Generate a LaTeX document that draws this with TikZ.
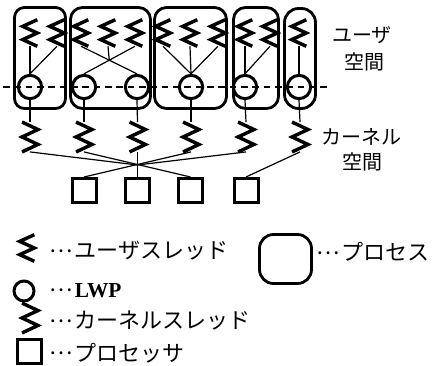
\documentclass[tikz,border=0pt]{standalone}
\usepackage{fontspec}
\newfontfamily\jp{Noto Sans CJK JP}
\newfontfamily\lwpfont{Liberation Serif}
\newcommand\mydots{\raisebox{0.3em}{…}\kern0.1em}
\usetikzlibrary{calc}
\begin{document}
\begin{tikzpicture}[x=0.75pt,y=-0.75pt,
  proc/.style={draw, line width=2.1pt, inner sep=0pt, rounded corners=9pt},
  uth/.style={inner sep=0pt, minimum width=10.5pt, minimum height=19.5pt},
  kth/.style={inner sep=0pt, minimum width=11.5pt, minimum height=22pt},
  lwp/.style={circle, draw, line width=2.25pt, inner sep=0pt, minimum size=17.5pt},
  cpu/.style={draw, line width=2.25pt, inner sep=0pt, minimum size=18pt},
  link/.style={line width=0.9pt},
  zig/.style={line width=2.6pt, line join=miter, miter limit=3},
  toplab/.style={font=\jp\fontsize{15pt}{17pt}\selectfont, inner sep=0pt},
  legtext/.style={font=\jp\fontsize{16.5pt}{18pt}\selectfont, inner sep=0pt, anchor=west}
]
\useasboundingbox (0,0) rectangle (433,366);

% processes
\node[proc, rounded corners=7.5pt, minimum width=38.25pt, minimum height=75.75pt] (p1) at (40,58) {};
\node[proc, minimum width=60pt, minimum height=75.75pt] (p2) at (110.5,58) {};
\node[proc, minimum width=54pt, minimum height=75.75pt] (p3) at (190.5,58) {};
\node[proc, minimum width=33.75pt, minimum height=75.75pt] (p4) at (256,58) {};
\node[proc, rounded corners=10.5pt, minimum width=23.25pt, minimum height=75pt] (p5) at (300,58.5) {};

% user threads
\foreach \n/\x in {u11/30,u12/57,u21/81,u22/108,u23/135,u31/163,u32/190,u33/218,u41/245,u42/270,u51/299}
  \node[uth] (\n) at (\x,33) {};

% LWPs
\foreach \n/\x in {l1/30,l21/84,l22/137,l3/191,l4/245,l5/299}
  \node[lwp] (\n) at (\x,87) {};

% kernel threads
\foreach \n/\x in {k1/30,k2/84,k3/137.5,k4/191,k5/246,k6/300}
  \node[kth] (\n) at (\x,137) {};

% processors
\foreach \n/\x in {c1/84,c2/137.5,c3/190.5,c4/246}
  \node[cpu] (\n) at (\x,190.5) {};

% dashed boundary
\coordinate (dl) at (3,87);
\coordinate (dr) at (328,87);
\draw[line width=0.8pt, dash pattern=on 5pt off 3.5pt] (dl) -- (dr);

% user thread -> LWP
\draw[link] (u11.south) -- (l1.north);
\draw[link] (u12.south) -- (l1.north);
\draw[link] (u21.south) -- (l22.north);
\draw[link] (u23.south) -- (l21.north);
\coordinate (x2) at (intersection of u21.south--l22.north and u23.south--l21.north);
\draw[link] (u22.south) -- (x2);
\draw[link] (u31.south) -- (l3.north);
\draw[link] (u32.south) -- (l3.north);
\draw[link] (u33.south) -- (l3.north);
\draw[link] (u41.south) -- (l4.north);
\draw[link] (u42.south) -- (l4.north);
\draw[link] (u51.south) -- (l5.north);

% LWP -> kernel thread
\draw[link] (l1.south) -- (k1.north);
\draw[link] (l21.south) -- (k2.north);
\draw[link] (l22.south) -- (k3.north);
\draw[link] (l3.south) -- (k4.north);
\draw[link] (l4.south) -- (k5.north);
\draw[link] (l5.south) -- (k6.north);

% kernel thread -> processors
\coordinate (hub) at (137.5,165);
\draw[link] (k1.south) -- (hub);
\draw[link] (k5.south) -- (hub);
\draw[link] (k3.south) -- (c2.north);
\draw[link] (k2.south) -- (c3.north);
\draw[link] (k4.south) -- (c1.north);
\draw[link] (k6.south) -- (c4.north);

% labels
\node[toplab] (tu1) at (362,35) {ユーザ};
\node[toplab] (tu2) at (364,62) {空間};
\node[toplab] (tk1) at (361,137) {カーネル};
\node[toplab] (tk2) at (362,162) {空間};

% legend
\node[uth] (lu) at (27,248) {};
\node[legtext] (tlu) at (49,251) {\mydots ユーザスレッド};
\node[proc, rounded corners=10.5pt, minimum width=39pt, minimum height=36.75pt] (lp) at (285.5,259) {};
\node[legtext] (tlp) at (316,252) {\mydots プロセス};
\node[lwp, minimum size=15pt] (ll) at (24,291) {};
\node[legtext] (tll) at (49,291) {\mydots\lwpfont\bfseries\fontsize{16pt}{18pt}\selectfont LWP};
\node[kth] (lk) at (30,318) {};
\node[legtext] (tlk) at (49,321) {\mydots カーネルスレッド};
\node[cpu] (lc) at (29,352) {};
\node[legtext] (tlc) at (49,353) {\mydots プロセッサ};

% zigzags
\foreach \n in {u11,u12,u21,u22,u23,u31,u32,u33,u41,u42,u51,lu}
  \draw[zig] (\n.north east) -- ($(\n.north west)!.5!(\n.west)$) -- (\n.east)
    -- ($(\n.west)!.5!(\n.south west)$) -- (\n.south east);
\foreach \n in {k1,k2,k3,k4,k5,k6,lk}
  \draw[zig] (\n.north west) -- ($(\n.north east)!.5!(\n.east)$) -- (\n.west)
    -- ($(\n.east)!.5!(\n.south east)$) -- (\n.south west);
\end{tikzpicture}
\end{document}
